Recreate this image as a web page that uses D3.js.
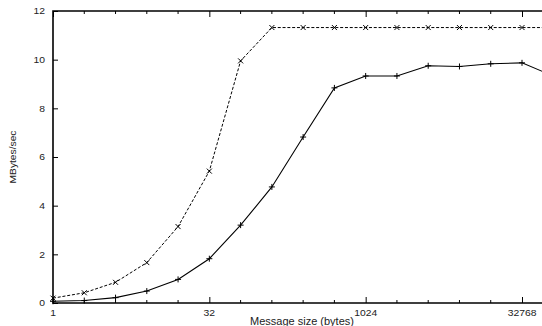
<!DOCTYPE html>
<html>
<head>
<meta charset="utf-8">
<script src="https://cdn.jsdelivr.net/npm/d3@7"></script>
<style>
  body { margin: 0; background: #fff; }
  svg { display: block; font-family: "Liberation Sans", Arial, sans-serif; }
</style>
</head>
<body>
<div id="graph"></div>
<script>
// message sizes in bytes (powers of two)
const sizes = [1, 2, 4, 8, 16, 32, 64, 128, 256, 512, 1024, 2048, 4096, 8192, 16384, 32768, 65536];
// dashed series with x markers
const dashedVals = [0.2, 0.42, 0.85, 1.66, 3.14, 5.42, 9.95, 11.32, 11.32, 11.32, 11.32, 11.32, 11.32, 11.32, 11.32, 11.32, 11.32];
// solid series with + markers
const solidVals = [0.07, 0.1, 0.22, 0.49, 0.97, 1.82, 3.2, 4.77, 6.82, 8.84, 9.33, 9.33, 9.75, 9.72, 9.83, 9.87, 9.33];
const xTicks = [1, 32, 1024, 32768];
const yTicks = [0, 2, 4, 6, 8, 10, 12];

const width = 542, height = 326;
const plotLeft = 53, plotTop = 11, plotBottom = 303;
const stretch = 1.15;  // labels in the original look a bit wide

const svg = d3.select('#graph').append('svg')
  .attr('width', width).attr('height', height);

const xScale = d3.scaleLog().base(2)
  .domain([1, 32768])
  .range([plotLeft, 522]);
const yScale = d3.scaleLinear()
  .domain([0, 12])
  .range([plotBottom, plotTop]);

const minorTicks = sizes.filter(d => !xTicks.includes(d) && xScale(d) < width);

// frame: left, bottom, top
svg.append('path')
  .attr('d', `M${width + 5},${plotTop}H${plotLeft}V${plotBottom}H${width + 5}`)
  .attr('fill', 'none').attr('stroke', '#000').attr('stroke-width', 1.6);

// y ticks (inward)
const yAxis = d3.axisLeft(yScale).tickValues(yTicks).tickSizeInner(-5).tickSizeOuter(0).tickFormat('');
svg.append('g').attr('transform', `translate(${plotLeft},0)`).call(yAxis)
  .call(g => g.select('.domain').remove())
  .call(g => g.selectAll('line').attr('stroke', '#000'));

svg.append('g').selectAll('text').data(yTicks).enter().append('text')
  .attr('transform', d => `translate(45,${yScale(d) + 3.3}) scale(${stretch},1)`)
  .attr('text-anchor', 'end').attr('font-size', 9).attr('fill', '#222')
  .text(d => d);

// x ticks bottom & top (major)
const xAxis = d3.axisBottom(xScale).tickValues(xTicks).tickFormat('')
  .tickSizeInner(-6).tickSizeOuter(0);
svg.append('g').attr('transform', `translate(0,${plotBottom})`).call(xAxis)
  .call(g => g.select('.domain').remove())
  .call(g => g.selectAll('line').attr('stroke', '#000'));
const xAxisTop = d3.axisTop(xScale).tickValues(xTicks).tickFormat('').tickSizeInner(-6).tickSizeOuter(0);
svg.append('g').attr('transform', `translate(0,${plotTop})`).call(xAxisTop)
  .call(g => g.select('.domain').remove())
  .call(g => g.selectAll('line').attr('stroke', '#000'));

svg.append('g').selectAll('text').data(xTicks).enter().append('text')
  .attr('transform', d => `translate(${xScale(d)},315.5) scale(${stretch},1)`)
  .attr('text-anchor', 'middle').attr('font-size', 9).attr('fill', '#222')
  .text(d => d);

// minor ticks bottom & top
svg.append('g').selectAll('line').data(minorTicks).enter().append('line')
  .attr('x1', d => xScale(d)).attr('x2', d => xScale(d))
  .attr('y1', plotBottom).attr('y2', plotBottom - 3).attr('stroke', '#000');
svg.append('g').selectAll('line').data(minorTicks).enter().append('line')
  .attr('x1', d => xScale(d)).attr('x2', d => xScale(d))
  .attr('y1', plotTop).attr('y2', plotTop + 3).attr('stroke', '#000');

// axis titles
svg.append('text')
  .attr('transform', `translate(302,324.5) scale(1.1,1)`)
  .attr('text-anchor', 'middle').attr('font-size', 10).attr('fill', '#222')
  .text('Message size (bytes)');
svg.append('text')
  .attr('transform', `translate(15.5,157) rotate(-90) scale(1.08,1)`)
  .attr('text-anchor', 'middle').attr('font-size', 9.5).attr('fill', '#222')
  .text('MBytes/sec');

// series
const dashedData = sizes.map((s, i) => ({x: s, y: dashedVals[i]}));
const solidData = sizes.map((s, i) => ({x: s, y: solidVals[i]}));

const line = d3.line()
  .x(d => xScale(d.x))
  .y(d => yScale(d.y));

svg.append('path').datum(dashedData)
  .attr('d', line).attr('fill', 'none')
  .attr('stroke', '#000').attr('stroke-width', 1).attr('stroke-dasharray', '3,1.8');

svg.append('path').datum(solidData)
  .attr('d', line).attr('fill', 'none')
  .attr('stroke', '#000').attr('stroke-width', 1.1);

// x markers
svg.append('g').selectAll('path').data(dashedData).enter().append('path')
  .attr('transform', d => `translate(${xScale(d.x)},${yScale(d.y)})`)
  .attr('d', 'M-2.5,-2.5L2.5,2.5M-2.5,2.5L2.5,-2.5')
  .attr('stroke', '#000').attr('stroke-width', 1);

// + markers
svg.append('g').selectAll('path').data(solidData).enter().append('path')
  .attr('transform', d => `translate(${xScale(d.x)},${yScale(d.y)})`)
  .attr('d', 'M-3,0H3M0,-3V3')
  .attr('stroke', '#000').attr('stroke-width', 1);
</script>
</body>
</html>
